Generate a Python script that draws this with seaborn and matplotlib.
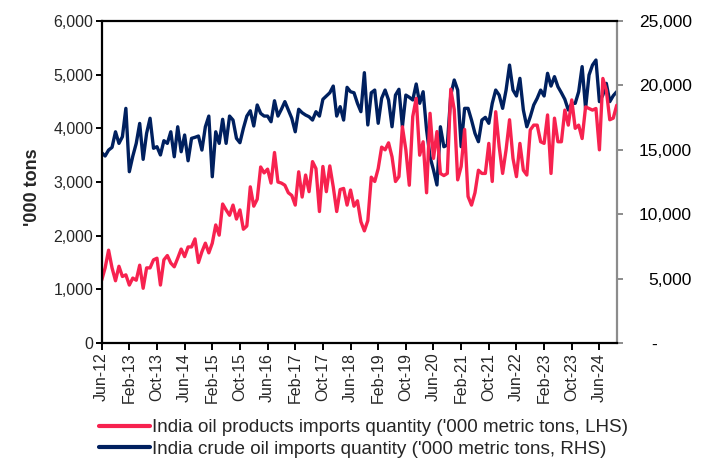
import numpy as np
import pandas as pd
import matplotlib
matplotlib.use("Agg")
import matplotlib.pyplot as plt
from matplotlib.lines import Line2D
from matplotlib.ticker import FixedLocator, FuncFormatter, MultipleLocator
import seaborn as sns

# Monthly observations, Jun-2012 onwards
months = pd.date_range("2012-06-01", periods=150, freq="MS")
month_labels = list(months.strftime("%b-%y"))

# India oil products imports, '000 metric tons (left axis)
products_kt = [
    1170, 1400, 1730, 1400, 1160, 1430, 1240, 1270, 1080, 1210,
    1170, 1450, 1020, 1400, 1400, 1550, 1580, 1080, 1550, 1630,
    1490, 1420, 1580, 1750, 1610, 1790, 1790, 1940, 1500, 1700,
    1860, 1680, 1860, 2200, 2010, 2590, 2480, 2380, 2570, 2310,
    2480, 2120, 2180, 2910, 2550, 2680, 3280, 3170, 3240, 2980,
    3550, 3000, 2980, 2940, 2800, 2750, 2570, 3190, 2720, 3130,
    2820, 3380, 3250, 2450, 3290, 2820, 3300, 2910, 2450, 2860,
    2880, 2570, 2850, 2550, 2650, 2260, 2090, 2280, 3090, 3010,
    3250, 3650, 3600, 3730, 3470, 3010, 3100, 4030, 3600, 2940,
    4220, 4560, 3500, 3750, 2800, 4280, 3440, 3940, 3160, 3120,
    3160, 4730, 4350, 3040, 3290, 3980, 2730, 2570, 2800, 3220,
    3160, 3160, 3720, 3010, 4310, 3660, 3160, 3600, 4160, 3440,
    3100, 3720, 3220, 3130, 3970, 4060, 4060, 3750, 3720, 4250,
    3160, 4190, 3750, 3750, 4340, 4060, 4530, 4000, 4060, 3810,
    4400, 4370, 4340, 4370, 3600, 4930, 4710, 4160, 4190, 4430,
]

# India crude oil imports, '000 metric tons (right axis)
crude_kt = [
    14780, 14520, 14980, 15190, 16400, 15500, 16020, 18220, 13300, 14500,
    15500, 17050, 14260, 16280, 17450, 15120, 15240, 14600, 15710, 15500,
    16400, 14460, 16790, 14850, 16150, 14150, 15890, 15970, 16070, 14980,
    16790, 17620, 12910, 16400, 15500, 17370, 15500, 17620, 17310, 15890,
    15550, 16670, 17620, 18030, 16850, 18480, 17830, 17620, 17620, 17180,
    18810, 17620, 18150, 18740, 18090, 17450, 16400, 18150, 17880, 17700,
    17570, 17310, 17960, 17620, 18920, 19180, 19430, 19950, 17620, 18350,
    17310, 19850, 19510, 19430, 18610, 17960, 20990, 16930, 19430, 19640,
    17060, 19000, 19640, 18870, 16790, 19250, 19700, 16790, 19250, 19080,
    18870, 20110, 18610, 19510, 16540, 14460, 13430, 12270, 16790, 15240,
    15370, 19250, 20420, 19640, 15240, 18220, 18220, 17310, 16280, 15630,
    17310, 17520, 17060, 18610, 19640, 19250, 18220, 19640, 21580, 19640,
    19180, 20550, 18090, 16790, 17570, 18480, 19000, 19640, 19180, 20940,
    19950, 20680, 19900, 19430, 18920, 18090, 18610, 18610, 19510, 21460,
    18220, 20810, 21580, 21970, 18740, 19250, 20160, 18740, 19200, 19510,
]

series_labels = [
    "India oil products imports quantity ('000 metric tons, LHS)",
    "India crude oil imports quantity ('000 metric tons, RHS)",
]

RED = "#F7224F"
NAVY = "#00205F"
GREY = "#8C8C8C"

sns.set_theme(style="white")
plt.rcParams["font.family"] = ["Liberation Sans", "DejaVu Sans"]

df = pd.DataFrame({
    "month": np.arange(len(months)),
    "products": products_kt,
    "crude": crude_kt,
})

fig = plt.figure(figsize=(7.09, 4.59), dpi=100)
ax = fig.add_axes([0.1434, 0.2527, 0.7264, 0.7015])
ax2 = ax.twinx()

sns.lineplot(data=df, x="month", y="crude", ax=ax2, color=NAVY,
             linewidth=2.4, legend=False)
sns.lineplot(data=df, x="month", y="products", ax=ax, color=RED,
             linewidth=2.4, legend=False)

# products line sits above the crude line
ax.set_zorder(ax2.get_zorder() + 1)
ax.patch.set_visible(False)

ax.set_xlim(0, len(months) - 1)
ax.set_ylim(0, 6000)
ax2.set_ylim(0, 25000)

tick_pos = list(range(0, len(months), 8))
ax.xaxis.set_major_locator(FixedLocator(tick_pos))
ax.set_xticklabels([month_labels[i] for i in tick_pos], rotation=90)
ax.yaxis.set_major_locator(MultipleLocator(1000))
ax.yaxis.set_major_formatter(FuncFormatter(lambda v, _: f"{v:,.0f}"))
ax2.yaxis.set_major_locator(MultipleLocator(5000))
ax2.yaxis.set_major_formatter(
    FuncFormatter(lambda v, _: "-" + " " * 7 if v == 0 else f"{v:,.0f}"))

ax.set_xlabel("")
ax2.set_ylabel("")
ax.set_ylabel("'000 tons", fontsize=13, fontweight="bold")
ax.yaxis.set_label_coords(-0.118, 0.484)

for side in ["left", "bottom", "top"]:
    ax.spines[side].set_color("black")
    ax.spines[side].set_linewidth(1.6)
ax.spines["right"].set_visible(False)
for side in ["left", "bottom", "top"]:
    ax2.spines[side].set_visible(False)
ax2.spines["right"].set_color(GREY)
ax2.spines["right"].set_linewidth(1.6)

ax.tick_params(axis="y", direction="out", length=4, width=1.4,
               color="black", labelsize=11.5, pad=2, left=True)
ax.tick_params(axis="x", direction="out", length=5, width=1.4,
               color="black", labelsize=11.5, pad=2, bottom=True)
ax2.tick_params(axis="y", direction="out", length=4, width=1.4,
                color=GREY, labelcolor="black", labelsize=12.5, pad=50,
                right=True)
for t in ax2.yaxis.get_major_ticks():
    t.label2.set_horizontalalignment("right")

handles = [Line2D([], [], color=RED, linewidth=3),
           Line2D([], [], color=NAVY, linewidth=3)]
fig.legend(handles, series_labels, loc="upper left",
           bbox_to_anchor=(0.139, 0.087), frameon=False, fontsize=13.6,
           handlelength=2.7, handletextpad=0.12, labelspacing=0.22,
           borderpad=0, borderaxespad=0)

fig.savefig("out.png", dpi=100)
